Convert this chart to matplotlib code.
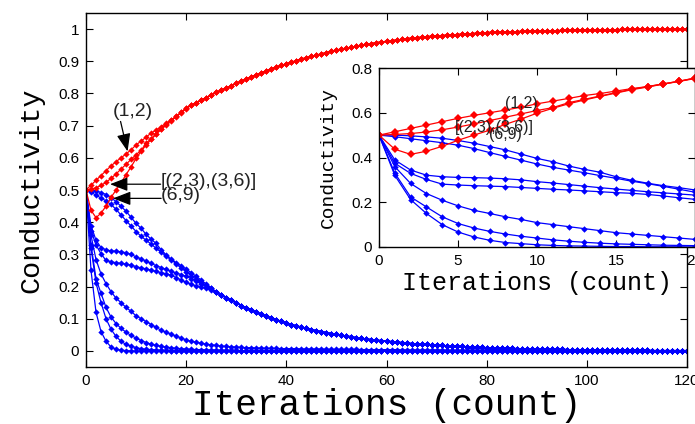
import numpy as np
import matplotlib.pyplot as plt

plt.rcParams['font.family'] = ['Liberation Sans', 'DejaVu Sans']

iterations = np.arange(121)

# red curves, iterations 0..20, shared tail 21..120
red_12_head = [0.5, 0.515, 0.53, 0.545, 0.56, 0.575, 0.588, 0.6, 0.612, 0.625, 0.64,
               0.652, 0.664, 0.677, 0.686, 0.697, 0.708, 0.717, 0.729, 0.741, 0.755]
red_2336_head = [0.5, 0.503, 0.507, 0.514, 0.524, 0.536, 0.55, 0.565, 0.58, 0.595, 0.61,
                 0.623, 0.645, 0.66, 0.675, 0.69, 0.705, 0.717, 0.729, 0.741, 0.755]
red_69_head = [0.5, 0.437, 0.414, 0.428, 0.45, 0.477, 0.5, 0.522, 0.548, 0.572, 0.598,
               0.62, 0.64, 0.657, 0.673, 0.688, 0.703, 0.715, 0.728, 0.74, 0.753]
red_tail = [0.763, 0.771, 0.779, 0.787, 0.795, 0.803, 0.810, 0.817, 0.824, 0.831,
            0.838, 0.845, 0.852, 0.858, 0.864, 0.870, 0.876, 0.882, 0.887, 0.892,
            0.897, 0.902, 0.907, 0.911, 0.915, 0.919, 0.923, 0.927, 0.931, 0.935,
            0.938, 0.941, 0.944, 0.947, 0.950, 0.953, 0.955, 0.958, 0.960, 0.962,
            0.964, 0.966, 0.968, 0.970, 0.972, 0.973, 0.975, 0.976, 0.978, 0.979,
            0.980, 0.981, 0.982, 0.983, 0.984, 0.985, 0.986, 0.987, 0.988, 0.989,
            0.990, 0.990, 0.991, 0.991, 0.992, 0.992, 0.993, 0.993, 0.994, 0.994,
            0.994, 0.995, 0.995, 0.995, 0.996, 0.996, 0.996, 0.997, 0.997, 0.997,
            0.997, 0.998, 0.998, 0.998, 0.998, 0.998, 0.999, 0.999, 0.999, 0.999,
            0.999, 0.999, 0.999, 1.0, 1.0, 1.0, 1.0, 1.0, 1.0, 1.0]

# slow blue curves, iterations 0..25, then one shared tail 26..120
blue_1_head = [0.5, 0.5, 0.497, 0.492, 0.486, 0.476, 0.464, 0.449, 0.434, 0.415, 0.396,
               0.381, 0.362, 0.347, 0.334, 0.314, 0.298, 0.285, 0.274, 0.265, 0.255,
               0.243, 0.232, 0.22, 0.208, 0.196]
blue_2_head = [0.5, 0.493, 0.484, 0.475, 0.466, 0.455, 0.44, 0.422, 0.405, 0.388, 0.371,
               0.356, 0.344, 0.332, 0.319, 0.307, 0.294, 0.283, 0.271, 0.258, 0.245,
               0.234, 0.223, 0.213, 0.204, 0.194]
blue_3_head = [0.5, 0.389, 0.344, 0.321, 0.314, 0.311, 0.31, 0.308, 0.305, 0.3, 0.292,
               0.286, 0.279, 0.272, 0.265, 0.259, 0.253, 0.247, 0.242, 0.237, 0.232,
               0.224, 0.216, 0.208, 0.200, 0.191]
blue_4_head = [0.5, 0.374, 0.329, 0.302, 0.281, 0.277, 0.274, 0.272, 0.27, 0.266, 0.262,
               0.258, 0.255, 0.251, 0.247, 0.243, 0.24, 0.235, 0.228, 0.22, 0.213,
               0.207, 0.202, 0.198, 0.194, 0.189]
blue_tail = [0.182, 0.173, 0.165, 0.157, 0.149,
             0.141, 0.134, 0.127, 0.120, 0.114, 0.108, 0.102, 0.097, 0.092, 0.087,
             0.082, 0.078, 0.074, 0.070, 0.066, 0.063, 0.060, 0.057, 0.054, 0.051,
             0.048, 0.046, 0.044, 0.041, 0.039, 0.037, 0.035, 0.033, 0.032, 0.030,
             0.029, 0.027, 0.026, 0.024, 0.023, 0.022, 0.021, 0.020, 0.019, 0.018,
             0.017, 0.016, 0.015, 0.014, 0.014, 0.013, 0.012, 0.012, 0.011, 0.010,
             0.010, 0.009, 0.009, 0.008, 0.008, 0.007, 0.007, 0.007, 0.006, 0.006,
             0.006, 0.005, 0.005, 0.005, 0.005, 0.004, 0.004, 0.004, 0.004, 0.003,
             0.003, 0.003, 0.003, 0.003, 0.002, 0.002, 0.002, 0.002, 0.002, 0.002,
             0.002, 0.002, 0.001, 0.001, 0.001, 0.001, 0.001, 0.001, 0.001, 0.001]

# fast blue curves, full 0..120
blue_5 = ([0.5, 0.359, 0.284, 0.239, 0.209, 0.184, 0.164, 0.15, 0.135, 0.123, 0.109,
           0.1, 0.091, 0.082, 0.073, 0.064, 0.058, 0.052, 0.046, 0.04, 0.034,
           0.030, 0.027, 0.024, 0.021, 0.019, 0.017, 0.015, 0.014, 0.013, 0.012,
           0.011, 0.010, 0.010, 0.009, 0.009, 0.008, 0.008, 0.008, 0.007, 0.007,
           0.007, 0.007, 0.006, 0.006, 0.006, 0.006, 0.006, 0.005, 0.005, 0.005,
           0.005, 0.005, 0.005, 0.005, 0.004, 0.004, 0.004, 0.004, 0.004, 0.004,
           0.004, 0.004, 0.003, 0.003, 0.003, 0.003, 0.003, 0.003, 0.003, 0.003,
           0.003] + [0.002] * 14 + [0.001] * 15 + [0.0] * 20)
blue_6 = ([0.5, 0.33, 0.224, 0.179, 0.135, 0.105, 0.085, 0.07, 0.058, 0.048, 0.04,
           0.032, 0.026, 0.021, 0.017, 0.014, 0.012, 0.01, 0.008, 0.007, 0.006,
           0.005, 0.004, 0.004, 0.003, 0.003, 0.003, 0.002, 0.002, 0.002, 0.002]
          + [0.001] * 10 + [0.0] * 80)
blue_7 = ([0.5, 0.32, 0.212, 0.15, 0.1, 0.067, 0.045, 0.03, 0.02, 0.015, 0.01,
           0.007, 0.005, 0.004, 0.003, 0.002, 0.002, 0.001, 0.001, 0.001] + [0.0] * 101)
blue_8 = [0.5, 0.25, 0.12, 0.06, 0.03, 0.012, 0.005, 0.002, 0.001] + [0.0] * 112

red_curves = [red_12_head + red_tail, red_2336_head + red_tail, red_69_head + red_tail]
blue_curves = [blue_1_head + blue_tail, blue_2_head + blue_tail,
               blue_3_head + blue_tail, blue_4_head + blue_tail,
               blue_5, blue_6, blue_7]

main_ticks_x = [0, 20, 40, 60, 80, 100, 120]
main_ticks_y = [0, 0.1, 0.2, 0.3, 0.4, 0.5, 0.6, 0.7, 0.8, 0.9, 1]
inset_ticks_x = [0, 5, 10, 15, 20]
inset_ticks_y = [0, 0.2, 0.4, 0.6, 0.8]

fig = plt.figure(figsize=(6.95, 4.24), dpi=100)

# main axes
ax = fig.add_axes([86 / 695, 57 / 424, 601 / 695, 354 / 424])
for c in blue_curves + [blue_8]:
    ax.plot(iterations, c, color='b', lw=0.9, marker='D', ms=3.2, mew=0)
for c in red_curves:
    ax.plot(iterations, c, color='r', lw=0.9, marker='D', ms=3.2, mew=0)

ax.set_xlim(0, 120)
ax.set_ylim(-0.05, 1.05)
ax.set_xticks(main_ticks_x)
ax.set_yticks(main_ticks_y)
ax.set_yticklabels(['0', '0.1', '0.2', '0.3', '0.4', '0.5', '0.6', '0.7', '0.8', '0.9', '1'])
ax.tick_params(direction='in', top=True, right=True, length=5, width=0.8,
               labelsize=11, pad=5)
for s in ax.spines.values():
    s.set_linewidth(1.0)
ax.set_xlabel('Iterations (count)', family='Liberation Mono', fontsize=26, labelpad=0)
ax.set_ylabel('Conductivity', family='Liberation Mono', fontsize=20.5, labelpad=10)

arrow = dict(arrowstyle='-|>,head_length=0.9,head_width=0.35', color='k',
             lw=0.9, shrinkA=0, shrinkB=0, mutation_scale=12)
ax.text(9.3, 0.745, '(1,2)', fontsize=14, ha='center', va='center', color='#222222')
ax.annotate('', xy=(8.3, 0.62), xytext=(6.9, 0.713), arrowprops=arrow)
ax.text(15.0, 0.525, '[(2,3),(3,6)]', fontsize=14, ha='left', va='center', color='#222222')
ax.annotate('', xy=(4.8, 0.518), xytext=(14.9, 0.518), arrowprops=arrow)
ax.text(15.0, 0.483, '(6,9)', fontsize=14, ha='left', va='center', color='#222222')
ax.annotate('', xy=(5.4, 0.474), xytext=(15.0, 0.474), arrowprops=arrow)

# inset axes
ins = fig.add_axes([379 / 695, 177 / 424, 316 / 695, 179 / 424])
ins.set_facecolor('white')
for c in blue_curves:
    ins.plot(iterations[:21], c[:21], color='b', lw=0.9, marker='D', ms=3.3, mew=0)
for c in red_curves:
    ins.plot(iterations[:21], c[:21], color='r', lw=0.9, marker='D', ms=3.6, mew=0)
ins.set_xlim(0, 20)
ins.set_ylim(0, 0.8)
ins.set_xticks(inset_ticks_x)
ins.set_yticks(inset_ticks_y)
ins.set_yticklabels(['0', '0.2', '0.4', '0.6', '0.8'])
ins.tick_params(direction='in', top=True, right=True, length=5, width=0.8,
                labelsize=11, pad=5)
for s in ins.spines.values():
    s.set_linewidth(1.0)
ins.set_xlabel('Iterations (count)', family='Liberation Mono', fontsize=18, labelpad=2)
ins.set_ylabel('Conductivity', family='Liberation Mono', fontsize=14, labelpad=10)
ins.text(9.0, 0.64, '(1,2)', fontsize=11.5, ha='center', va='center', color='#222222')
ins.text(7.3, 0.535, '[(2,3),(3,6)]', fontsize=11.5, ha='center', va='center', color='#222222')
ins.text(8.0, 0.505, '(6,9)', fontsize=11.5, ha='center', va='center', color='#222222')

fig.savefig('out.png', dpi=100)
